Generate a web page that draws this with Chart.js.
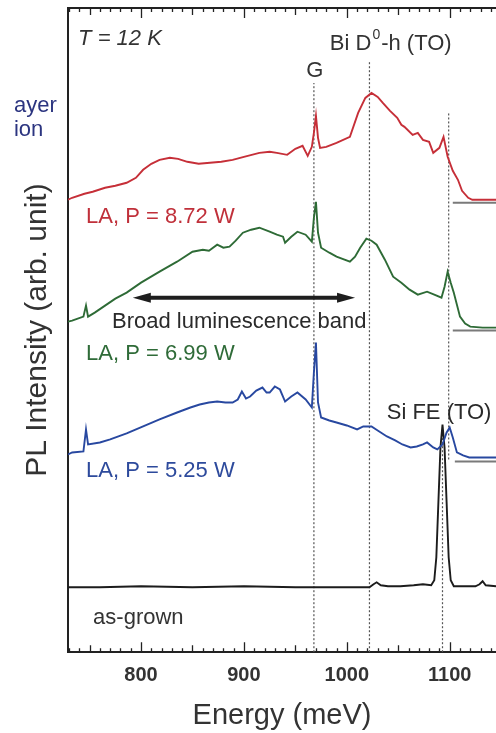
<!DOCTYPE html>
<html>
<head>
<meta charset="utf-8">
<script src="https://cdn.jsdelivr.net/npm/chart.js@4.4.1/dist/chart.umd.min.js"></script>
<style>
  html, body { margin: 0; padding: 0; background: #fff; overflow: hidden; }
  #wrap { width: 496px; height: 733px; }
</style>
</head>
<body>
<div id="wrap"><canvas id="pl" width="496" height="733"></canvas></div>
<script>
// PL spectra. Energy in meV, intensity in arb. units (curves are offset).
const redE = [729, 733, 745, 753, 765, 775, 786, 795, 802, 810, 818, 828, 836, 845, 856, 867, 878, 889, 900, 915, 925, 932, 942, 950, 957, 962, 966, 968, 970, 972, 974, 980, 990, 1003, 1011, 1018, 1024, 1030, 1035, 1042, 1049, 1053, 1056, 1064, 1069, 1074, 1080, 1084, 1090, 1094, 1098, 1103, 1108, 1112, 1118, 1122, 1132, 1145];
const redI = [453, 455, 459, 461, 465, 467, 470, 475, 483, 489, 493, 495, 494, 491, 489, 490, 491, 493, 496, 500, 501, 500, 498, 504, 507, 497, 506, 520, 537, 515, 505, 506, 510, 516, 540, 555, 560, 556, 550, 542, 535, 528, 526, 518, 520, 513, 511, 500, 505, 516, 496, 482, 473, 462, 455, 453, 453, 453];

const greenE = [729, 733, 744, 746.5, 748.5, 755, 765, 775, 786, 800, 818, 835, 850, 860, 866, 874, 880, 886, 892, 899, 907, 915, 925, 932, 938, 940, 946, 952, 960, 966, 968, 970, 972, 975, 983, 990, 1003, 1008, 1013, 1019, 1024, 1029, 1037, 1045, 1053, 1061, 1069, 1078, 1085, 1092, 1095, 1098, 1101, 1104, 1110, 1115, 1120, 1132, 1145];
const greenI = [331, 332, 336, 347, 336, 340, 347, 354, 360, 370, 381, 391, 401, 403, 402, 408, 405, 406, 412, 420, 423, 425, 421, 418, 416, 410, 416, 421, 418, 411, 435, 451, 420, 405, 400, 396, 391, 396, 405, 414, 412, 408, 393, 376, 370, 363, 358, 361, 358, 355, 366, 381, 370, 360, 336, 329, 326, 325, 325];

const blueE = [729, 733, 744, 746.5, 748.5, 760, 770, 786, 802, 818, 835, 848, 857, 866, 874, 882, 889, 894, 898, 902, 906, 912, 918, 922, 925, 930, 935, 940, 946, 952, 960, 966, 968, 970, 972, 975, 983, 990, 1000, 1010, 1016, 1024, 1030, 1039, 1047, 1054, 1062, 1068, 1074, 1078, 1084, 1088, 1093, 1097, 1100, 1103, 1107, 1113, 1119, 1145];
const blueI = [198, 200, 201, 223, 208, 210, 213, 219, 226, 233, 240, 245, 248, 250, 251, 250, 250, 253, 261, 254, 256, 262, 265, 260, 260, 266, 263, 251, 256, 260, 253, 245, 280, 310, 250, 235, 232, 230, 227, 223, 226, 226, 222, 216, 212, 208, 205, 206, 208, 210, 205, 203, 208, 220, 225, 215, 200, 197, 195, 195];

const grownE = [729, 760, 800, 850, 900, 950, 1000, 1022, 1026, 1029, 1033, 1040, 1052, 1065, 1074, 1082, 1085, 1087, 1089, 1091, 1093, 1095, 1097, 1099, 1101, 1104, 1110, 1125, 1129, 1132, 1135, 1145];
const grownI = [65, 65, 66, 65, 66, 65, 65, 65, 68, 70, 67, 66, 66, 67, 68, 67, 72, 95, 150, 205, 228, 205, 150, 95, 72, 66, 66, 66, 68, 71, 67, 66];

// dotted guide lines: G, Bi D0-h (TO), Si TO, Si FE (TO)
const guideE = [968, 1022, 1099, 1093];
const guideTop = [570, 592, 540, 225];
const guideBottom = [0, 0, 193, 0];

// grey zero-level markers at the right of the LA spectra
const zeroStart = [1103, 1103, 1105];
const zeroLevel = [450, 322, 191];

const xTickLabels = [800, 900, 1000, 1100];

const FONT = '"Liberation Sans", Arial, sans-serif';

const pts = (xs, ys) => xs.map((x, i) => ({ x, y: ys[i] }));

const curve = (xs, ys, color) => ({
  data: pts(xs, ys), borderColor: color, borderWidth: 1.9,
  pointRadius: 0, tension: 0, order: 0
});

const guides = guideE.map((e, i) => ({
  data: [{ x: e, y: guideBottom[i] }, { x: e, y: guideTop[i] }],
  borderColor: '#555', borderWidth: 1.2, borderDash: [2, 2],
  pointRadius: 0, order: 3
}));

const zeros = zeroLevel.map((v, i) => ({
  data: [{ x: zeroStart[i], y: v }, { x: 1145, y: v }],
  borderColor: '#7a7a7a', borderWidth: 2, pointRadius: 0, order: 2
}));

// labels placed in data coordinates (energy, intensity)
const notes = [
  { parts: [['T = 12 K']], e: 738.8, v: 608, font: 'italic 22px ' + FONT, color: '#333' },
  { parts: [['Bi D'], ['0', 'sup'], ['-h (TO)']], e: 983.5, v: 603, font: '22px ' + FONT, color: '#333' },
  { parts: [['G']], e: 969, v: 576, font: '22px ' + FONT, color: '#333', align: 'center' },
  { parts: [['ayer']], e: 676.5, v: 541, font: '22px ' + FONT, color: '#2c3580' },
  { parts: [['ion']], e: 676.5, v: 517, font: '22px ' + FONT, color: '#2c3580' },
  { parts: [['LA, P = 8.72 W']], e: 746.6, v: 430, font: '22px ' + FONT, color: '#c0303a' },
  { parts: [['Broad luminescence band']], e: 771.8, v: 325, font: '22px ' + FONT, color: '#2a2a2a' },
  { parts: [['LA, P = 6.99 W']], e: 746.6, v: 293, font: '22px ' + FONT, color: '#2f6b38' },
  { parts: [['LA, P = 5.25 W']], e: 746.6, v: 175, font: '22px ' + FONT, color: '#2d4a9c' },
  { parts: [['Si FE (TO)']], e: 1038.8, v: 233, font: '22px ' + FONT, color: '#2a2a2a' },
  { parts: [['as-grown']], e: 753.4, v: 28, font: '22px ' + FONT, color: '#333' }
];

const notesPlugin = {
  id: 'notes',
  afterDraw(chart) {
    const { ctx, scales: { x, y } } = chart;
    ctx.save();
    ctx.textBaseline = 'alphabetic';
    for (const n of notes) {
      ctx.font = n.font;
      ctx.fillStyle = n.color;
      let px = x.getPixelForValue(n.e);
      const py = y.getPixelForValue(n.v);
      if (n.align === 'center') {
        ctx.textAlign = 'center';
        ctx.fillText(n.parts[0][0], px, py);
        continue;
      }
      ctx.textAlign = 'left';
      for (const [t, kind] of n.parts) {
        if (kind === 'sup') {
          ctx.font = '14px ' + FONT;
          ctx.fillText(t, px + 1, py - 11);
          px += ctx.measureText(t).width + 2;
          ctx.font = n.font;
        } else {
          ctx.fillText(t, px, py);
          px += ctx.measureText(t).width;
        }
      }
    }

    // double-headed arrow of the broad band
    const x1 = x.getPixelForValue(792), x2 = x.getPixelForValue(1008), ay = y.getPixelForValue(355);
    ctx.strokeStyle = '#1e1e1e';
    ctx.fillStyle = '#1e1e1e';
    ctx.lineWidth = 4;
    ctx.beginPath();
    ctx.moveTo(x1 + 12, ay); ctx.lineTo(x2 - 12, ay);
    ctx.stroke();
    ctx.beginPath();
    ctx.moveTo(x1, ay); ctx.lineTo(x1 + 18, ay - 5); ctx.lineTo(x1 + 18, ay + 5); ctx.closePath();
    ctx.moveTo(x2, ay); ctx.lineTo(x2 - 18, ay - 5); ctx.lineTo(x2 - 18, ay + 5); ctx.closePath();
    ctx.fill();
    ctx.restore();
  }
};

// inward minor/major ticks on the bottom and top energy axes
const tickMarks = {
  id: 'tickMarks',
  afterDraw(chart) {
    const { ctx, chartArea: a, scales: { x } } = chart;
    ctx.save();
    ctx.strokeStyle = '#222';
    ctx.lineWidth = 1.3;
    for (let e = 730; e <= 1145; e += 10) {
      const px = Math.round(x.getPixelForValue(e)) + 0.5;
      const len = e % 100 === 0 ? 10 : e % 50 === 0 ? 7 : 4;
      ctx.beginPath();
      ctx.moveTo(px, a.bottom); ctx.lineTo(px, a.bottom - len);
      ctx.moveTo(px, a.top); ctx.lineTo(px, a.top + len);
      ctx.stroke();
    }
    ctx.restore();
  }
};

new Chart(document.getElementById('pl'), {
  type: 'line',
  data: {
    datasets: [
      curve(redE, redI, '#c62f38'),
      curve(greenE, greenI, '#2e6b36'),
      curve(blueE, blueI, '#2848a0'),
      curve(grownE, grownI, '#1c1c1c'),
      ...zeros,
      ...guides
    ]
  },
  options: {
    responsive: false,
    animation: false,
    layout: { padding: { left: 2, top: 8, right: 0, bottom: 0 } },
    plugins: { legend: { display: false }, tooltip: { enabled: false } },
    scales: {
      x: {
        type: 'linear', position: 'bottom', min: 729, max: 1145,
        grid: { display: false, drawTicks: false },
        border: { display: true, width: 2, color: '#222' },
        ticks: {
          stepSize: 100, includeBounds: false, padding: 11,
          color: '#333', font: { family: FONT, size: 20, weight: 'bold' },
          callback: (v) => xTickLabels.includes(v) ? String(v) : ''
        },
        title: {
          display: true, text: 'Energy (meV)', color: '#333',
          font: { family: FONT, size: 29 }, padding: { top: 0, bottom: 0 }
        }
      },
      x2: {
        type: 'linear', position: 'top', min: 729, max: 1145,
        grid: { display: false, drawTicks: false },
        border: { display: true, width: 2, color: '#222' },
        ticks: { display: false }
      },
      y: {
        type: 'linear', min: 0, max: 645,
        grid: { display: false, drawTicks: false },
        border: { display: true, width: 2, color: '#222' },
        ticks: { display: false },
        title: {
          display: true, text: 'PL Intensity (arb. unit)', color: '#333',
          font: { family: FONT, size: 30 }, padding: { top: 18, bottom: 12 }
        }
      }
    }
  },
  plugins: [tickMarks, notesPlugin]
});
</script>
</body>
</html>
